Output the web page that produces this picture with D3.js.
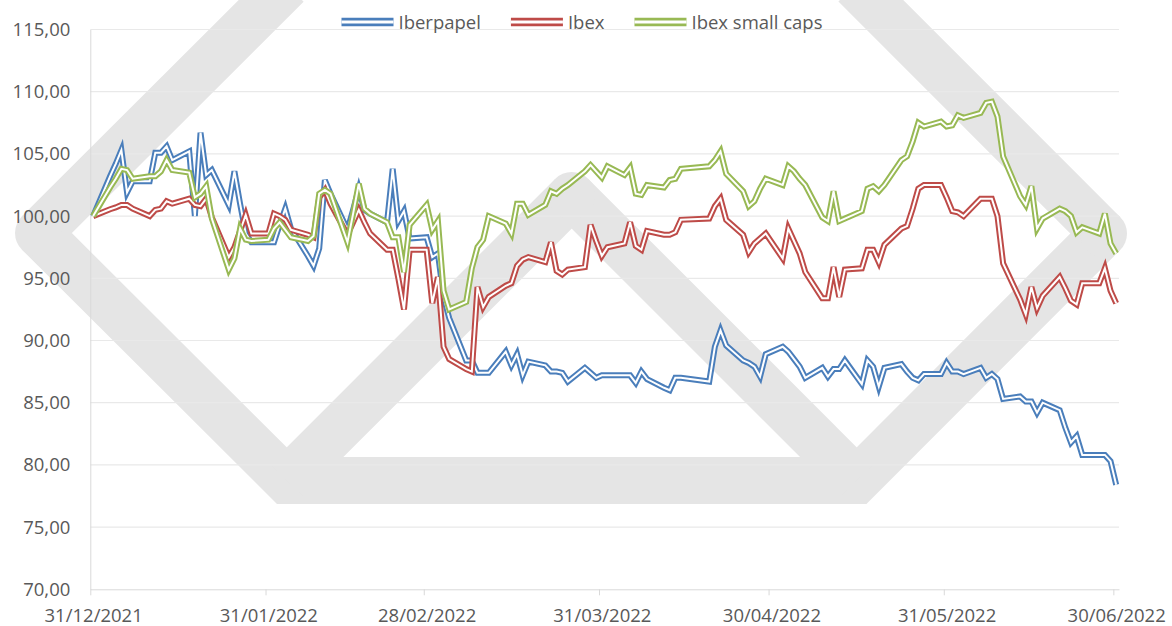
<!DOCTYPE html>
<html>
<head>
<meta charset="utf-8">
<script src="https://cdn.jsdelivr.net/npm/d3@7"></script>
<style>
body { margin: 0; background: #fff; }
svg { display: block; }
</style>
</head>
<body>
<div id="chart"></div>
<script>
// trading days, 31/12/2021 = 100
var dates = [
 "2021-12-31","2022-01-03","2022-01-04","2022-01-05","2022-01-06","2022-01-07",
 "2022-01-10","2022-01-11","2022-01-12","2022-01-13","2022-01-14",
 "2022-01-17","2022-01-18","2022-01-19","2022-01-20","2022-01-21",
 "2022-01-24","2022-01-25","2022-01-26","2022-01-27","2022-01-28","2022-01-31",
 "2022-02-01","2022-02-02","2022-02-03","2022-02-04",
 "2022-02-07","2022-02-08","2022-02-09","2022-02-10","2022-02-11",
 "2022-02-14","2022-02-15","2022-02-16","2022-02-17","2022-02-18",
 "2022-02-21","2022-02-22","2022-02-23","2022-02-24","2022-02-25","2022-02-28",
 "2022-03-01","2022-03-02","2022-03-03","2022-03-04",
 "2022-03-07","2022-03-08","2022-03-09","2022-03-10","2022-03-11",
 "2022-03-14","2022-03-15","2022-03-16","2022-03-17","2022-03-18",
 "2022-03-21","2022-03-22","2022-03-23","2022-03-24","2022-03-25",
 "2022-03-28","2022-03-29","2022-03-30","2022-03-31","2022-04-01",
 "2022-04-04","2022-04-05","2022-04-06","2022-04-07","2022-04-08",
 "2022-04-11","2022-04-12","2022-04-13","2022-04-14",
 "2022-04-19","2022-04-20","2022-04-21","2022-04-22",
 "2022-04-25","2022-04-26","2022-04-27","2022-04-28","2022-04-29",
 "2022-05-02","2022-05-03","2022-05-04","2022-05-05","2022-05-06",
 "2022-05-09","2022-05-10","2022-05-11","2022-05-12","2022-05-13",
 "2022-05-16","2022-05-17","2022-05-18","2022-05-19","2022-05-20",
 "2022-05-23","2022-05-24","2022-05-25","2022-05-26","2022-05-27",
 "2022-05-30","2022-05-31","2022-06-01","2022-06-02","2022-06-03",
 "2022-06-06","2022-06-07","2022-06-08","2022-06-09","2022-06-10",
 "2022-06-13","2022-06-14","2022-06-15","2022-06-16","2022-06-17",
 "2022-06-20","2022-06-21","2022-06-22","2022-06-23","2022-06-24",
 "2022-06-27","2022-06-28","2022-06-29","2022-06-30"
];

var iberpapel = [
 100.0,103.2,104.2,105.3,101.9,102.8,
 102.8,105.1,105.1,105.6,104.5,
 105.2,100.0,106.7,103.3,103.7,
 100.9,103.6,101.0,98.6,97.9,97.9,
 97.9,99.3,100.6,99.0,
 96.8,96.0,97.4,102.9,101.8,
 98.9,100.5,102.2,100.5,100.2,
 99.5,103.8,99.6,100.4,98.2,98.3,
 96.7,97.0,93.5,91.8,
 88.4,88.4,87.4,87.4,87.4,
 89.1,88.0,88.9,87.2,88.3,
 88.0,87.5,87.5,87.4,86.7,
 87.8,87.4,87.0,87.2,87.2,
 87.2,87.2,86.6,87.5,86.9,
 86.2,86.0,87.0,87.0,
 86.7,89.5,90.8,89.6,
 88.4,88.2,87.9,87.1,88.9,
 89.5,89.1,88.5,87.9,87.0,
 87.8,87.1,87.7,87.7,88.4,
 86.5,88.4,87.9,86.3,87.8,
 88.1,87.5,87.0,86.8,87.3,
 87.3,88.2,87.5,87.5,87.3,
 87.8,87.0,87.3,86.9,85.3,
 85.5,85.1,85.1,84.2,85.0,
 84.4,83.0,81.8,82.3,80.8,
 80.8,80.8,80.3,78.4
];

var ibex = [
 100.0,100.55,100.7,100.9,100.9,100.6,
 100.0,100.5,100.6,101.2,101.0,
 101.4,100.9,100.8,101.4,99.9,
 96.7,97.5,98.8,100.1,98.6,98.6,
 100.2,100.0,99.7,98.9,
 98.5,98.3,101.5,102.1,101.0,
 98.5,99.5,100.5,99.5,98.6,
 97.3,97.3,95.0,92.5,97.3,97.3,
 93.0,95.1,89.5,88.5,
 87.7,87.5,94.3,92.7,93.5,
 94.4,94.6,96.0,96.5,96.7,
 96.3,97.9,95.6,95.3,95.7,
 95.9,99.3,98.0,96.8,97.5,
 97.8,99.5,97.6,97.3,98.8,
 98.5,98.5,98.7,99.7,
 99.8,100.8,101.4,99.7,
 98.5,97.1,97.8,98.2,98.6,
 96.6,99.0,98.0,97.0,95.5,
 93.4,93.4,95.9,93.5,95.7,
 95.8,97.3,97.3,96.3,97.7,
 99.0,99.2,100.6,102.2,102.5,
 102.5,101.5,100.4,100.3,100.0,
 101.4,101.4,101.4,100.0,96.2,
 93.3,92.1,94.3,92.6,93.6,
 95.1,94.2,93.2,92.9,94.6,
 94.6,95.8,94.0,93.0
];

var smallCaps = [
 100.0,102.3,103.0,103.8,103.7,103.0,
 103.2,103.2,103.6,104.5,103.7,
 103.5,101.5,101.8,102.4,99.8,
 95.7,96.6,99.0,98.1,98.0,98.1,
 99.0,99.5,98.9,98.3,
 98.0,98.4,101.8,102.1,101.8,
 97.9,100.2,102.6,100.6,100.2,
 99.5,98.3,98.3,95.5,99.3,100.9,
 98.9,99.6,94.0,92.5,
 93.1,95.8,97.5,98.1,100.0,
 99.4,98.6,101.0,101.0,100.1,
 100.9,102.0,101.8,102.2,102.5,
 103.6,104.1,103.6,103.1,104.0,
 103.3,103.9,101.8,101.7,102.5,
 102.3,102.9,103.0,103.8,
 104.0,104.5,105.2,103.4,
 102.0,100.8,101.2,102.2,103.0,
 102.5,104.0,103.6,103.0,102.5,
 99.9,99.6,102.0,99.6,99.8,
 100.4,102.2,102.4,102.0,102.5,
 104.5,104.8,106.0,107.5,107.2,
 107.6,107.2,107.3,108.1,107.9,
 108.3,109.1,109.2,108.0,104.8,
 101.6,100.9,102.4,99.0,99.8,
 100.6,100.4,100.0,98.7,99.1,
 98.6,100.2,97.8,97.0
];

var seriesNames = ["Iberpapel", "Ibex", "Ibex small caps"];
var yTicks = [70, 75, 80, 85, 90, 95, 100, 105, 110, 115];
var xTicks = ["2021-12-31","2022-01-31","2022-02-28","2022-03-31","2022-04-30","2022-05-31","2022-06-30"];

var width = 1172, height = 626;
var plotLeft = 90.3, plotRight = 1119, plotTop = 29.5, plotBottom = 589.3;
var font = "'Open Sans', 'Noto Sans', sans-serif";
var textColor = "#595959";

var parse = d3.utcParse("%Y-%m-%d");
var days = dates.map(parse);

var svg = d3.select("#chart").append("svg").attr("width", width).attr("height", height);

var x = d3.scaleUtc().domain([parse("2021-12-31"), parse("2022-07-01")]).range([plotLeft, plotRight]);
var y = d3.scaleLinear().domain([70, 115]).range([plotBottom, plotTop]);
// points sit in the middle of their day
function xMid(d) { return x(d3.utcHour.offset(d, 12)); }

// background logo
var wm = svg.append("g").attr("fill", "none").attr("stroke", "#e5e5e5")
	.attr("stroke-width", 47).attr("stroke-linejoin", "miter").attr("stroke-miterlimit", 1.2);
wm.append("path").attr("d", "M287,-15 L38.5,233 L286.7,480.5 L856.7,480.5 L1103.5,233.5 L855,-15");
wm.append("path").attr("d", "M286.7,480.5 L571.7,195.5 L856.7,480.5");
[[38.5, 233], [1103.5, 233.5], [571.7, 195.5]].forEach(function(p) {
	wm.append("circle").attr("cx", p[0]).attr("cy", p[1]).attr("r", 23.5)
		.attr("fill", "#e5e5e5").attr("stroke", "none");
});

// gridlines
svg.append("g").selectAll("line").data(yTicks.filter(function(t){ return t > 70; })).enter()
	.append("line")
	.attr("x1", plotLeft).attr("x2", plotRight)
	.attr("y1", function(d){ return y(d); }).attr("y2", function(d){ return y(d); })
	.attr("stroke", "#e9e9e9").attr("stroke-width", 1.2);

// y axis
svg.append("g").attr("transform", "translate(" + plotLeft + ",0)")
	.call(d3.axisLeft(y).tickValues(yTicks).tickSize(0).tickSizeOuter(0).tickPadding(20)
		.tickFormat(function(d){ return d3.format(".2f")(d).replace(".", ","); }))
	.attr("font-family", font).attr("font-size", 18.5)
	.call(function(g){ g.select(".domain").attr("stroke", "#d9d9d9"); })
	.call(function(g){ g.selectAll("text").attr("fill", textColor); });

// x axis
var xTickDates = xTicks.map(parse);
var half = xMid(xTickDates[0]) - x(xTickDates[0]);
svg.append("g").attr("transform", "translate(0," + plotBottom + ")")
	.call(d3.axisBottom(x).tickValues(xTickDates).tickSize(6).tickSizeOuter(0).tickPadding(14)
		.tickFormat(d3.utcFormat("%d/%m/%Y")))
	.attr("font-family", font).attr("font-size", 18.5)
	.call(function(g){ g.select(".domain").attr("stroke", "#d9d9d9"); })
	.call(function(g){ g.selectAll(".tick line").attr("stroke", "#d9d9d9"); })
	.call(function(g){ g.selectAll(".tick text").attr("fill", textColor).attr("x", half); });

// lines (double line look: coloured stroke with white core)
var series = [
	{name: seriesNames[0], values: iberpapel, color: "#4A7EBB"},
	{name: seriesNames[1], values: ibex, color: "#BE4B48"},
	{name: seriesNames[2], values: smallCaps, color: "#98B954"}
];

var line = d3.line()
	.x(function(v, i){ return xMid(days[i]); })
	.y(function(v){ return y(v); });

series.forEach(function(s) {
	var g = svg.append("g").attr("class", "series").attr("fill", "none").attr("stroke-linejoin", "miter");
	g.append("path").attr("d", line(s.values)).attr("stroke", s.color).attr("stroke-width", 6);
	g.append("path").attr("d", line(s.values)).attr("stroke", "#fff").attr("stroke-width", 2);
});

// legend
var legend = svg.append("g").attr("font-family", font).attr("font-size", 18.5);
var cursor = 0;
series.forEach(function(s) {
	var item = legend.append("g").attr("transform", "translate(" + cursor + ",0)");
	item.append("line").attr("x1", 0).attr("x2", 52).attr("y1", 22).attr("y2", 22)
		.attr("stroke", s.color).attr("stroke-width", 8.5);
	item.append("line").attr("x1", 0).attr("x2", 52).attr("y1", 22).attr("y2", 22)
		.attr("stroke", "#fff").attr("stroke-width", 3);
	var t = item.append("text").text(s.name).attr("x", 57).attr("y", 28.5).attr("fill", textColor);
	cursor += 57 + t.node().getComputedTextLength() + 30;
});
var legendWidth = cursor - 30;
legend.attr("transform", "translate(" + (582 - legendWidth / 2) + ",0)");
</script>
</body>
</html>
